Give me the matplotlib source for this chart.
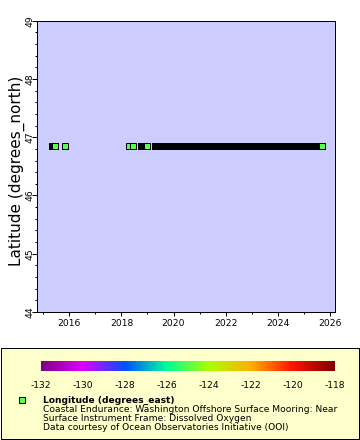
import matplotlib
matplotlib.use("Agg")
import matplotlib.pyplot as plt
import matplotlib.dates as mdates
import numpy as np
import pandas as pd
from matplotlib.colors import LinearSegmentedColormap, Normalize
from matplotlib.colorbar import ColorbarBase
from matplotlib.patches import Rectangle

# 観測データ (緯度・経度はほぼ一定)
latitude = 46.85
longitude = -124.95

# 連続観測の期間 (開始, 終了)
obs_spans = [
    ("2015-05-10", "2015-06-08"),
    ("2018-10-09", "2019-01-01"),
    ("2019-04-23", "2025-09-06"),
]
# 単独の観測点
obs_points = ["2015-11-08", "2018-04-23", "2018-06-19"]

# カラーバー
cbar_min = -132
cbar_max = -118
cbar_ticks = list(range(-132, -117, 2))
rainbow_colors = ["#800088", "#DD00FF", "#0050FF", "#00FF99",
                  "#AAFF00", "#FFB000", "#FF1100", "#800000"]

legend_title = "Longitude (degrees_east)"
legend_lines = [
    "Coastal Endurance: Washington Offshore Surface Mooring: Near",
    "Surface Instrument Frame: Dissolved Oxygen",
    "Data courtesy of Ocean Observatories Initiative (OOI)",
]

W, H = 360, 440
DPI = 100
px = 72 / DPI  # 1px in points

cmap = LinearSegmentedColormap.from_list("erddap_rainbow", rainbow_colors)
norm = Normalize(cbar_min, cbar_max)
marker_color = cmap(norm(longitude))

fig = plt.figure(figsize=(W / DPI, H / DPI), dpi=DPI)
fig.patch.set_facecolor("white")

ax = fig.add_axes([36.7 / W, 1 - 312 / H, (335 - 36.7) / W, (312 - 20.7) / H])
ax.set_facecolor("#CCCCFF")

# 時系列順に描く
events = [(pd.Timestamp(s), pd.Timestamp(e)) for s, e in obs_spans]
events += [(pd.Timestamp(p), pd.Timestamp(p)) for p in obs_points]
events.sort()
for i, (s, e) in enumerate(events):
    if s != e:
        ax.plot([s, e], [latitude, latitude], color="black", lw=7 * px,
                solid_capstyle="projecting", zorder=3 + i)
    ax.plot([e], [latitude], marker="s", ms=6 * px, mew=1 * px,
            mfc=marker_color, mec="black", ls="none", zorder=3 + i)

ax.set_xlim(pd.Timestamp("2014-10-01"), pd.Timestamp("2026-03-14"))
ax.set_ylim(44, 49)
ax.xaxis.set_major_locator(mdates.YearLocator(2))
ax.xaxis.set_minor_locator(mdates.YearLocator(1))
ax.xaxis.set_major_formatter(mdates.DateFormatter("%Y"))
ax.set_yticks(range(44, 50))
ax.set_yticks(np.arange(44, 49.01, 0.2), minor=True)
ax.tick_params(axis="both", which="major", direction="out", length=4 * px,
               width=1 * px, labelsize=6.6, pad=2)
ax.tick_params(axis="both", which="minor", direction="out", length=2.5 * px,
               width=1 * px)
ax.tick_params(axis="y", which="major", length=5.5 * px, pad=-2.6)
for lab in ax.get_yticklabels():
    lab.set_rotation(90)
    lab.set_va("center")
for sp in ax.spines.values():
    sp.set_linewidth(1 * px)
fig.text(17 / W, 1 - 171 / H, "Latitude (degrees_north)", fontsize=11,
         rotation=90, ha="center", va="center")

# 凡例エリア
fig.patches.append(Rectangle((1 / W, 1 - 439 / H), 358 / W, 91 / H,
                             transform=fig.transFigure, facecolor="#FFFFCC",
                             edgecolor="black", lw=1 * px, zorder=-1))

cax = fig.add_axes([41 / W, 1 - 371 / H, 294 / W, 10 / H])
cax.set_zorder(2)
cb = ColorbarBase(cax, cmap=cmap, norm=norm, orientation="horizontal",
                  ticks=cbar_ticks)
cb.outline.set_visible(False)
cax.tick_params(length=0, labelsize=6.6, pad=7)
cax.set_xticklabels([f"{t}" for t in cbar_ticks])

fig.lines.append(plt.Line2D([21.5 / W], [1 - 400 / H], marker="s",
                            ms=6 * px, mew=1 * px, mfc=marker_color,
                            mec="black", transform=fig.transFigure))
fig.text(43 / W, 1 - 400 / H, legend_title, fontsize=6.6, weight="bold",
         va="center", ha="left")
for k, line in enumerate(legend_lines):
    fig.text(43 / W, 1 - (409 + 9 * k) / H, line, fontsize=6.6,
             va="center", ha="left")

fig.savefig("out.png", dpi=DPI)
